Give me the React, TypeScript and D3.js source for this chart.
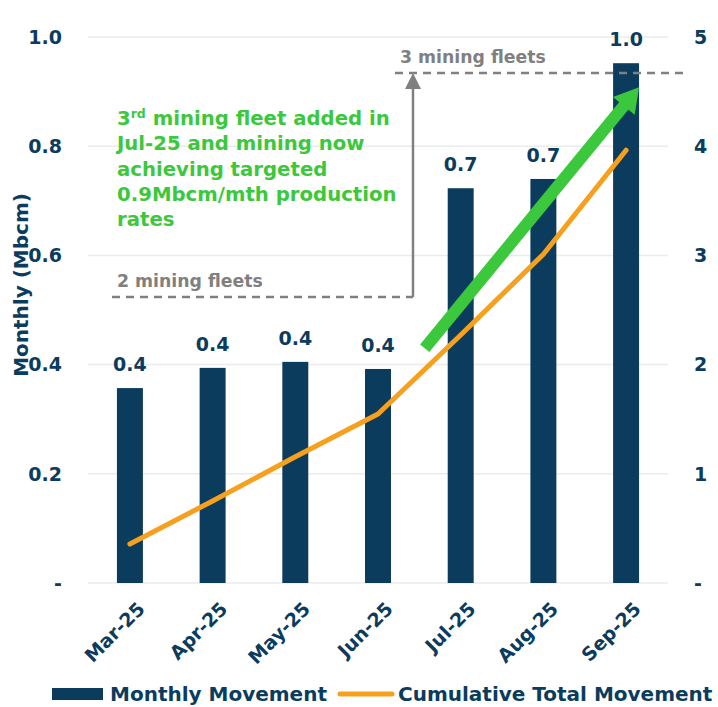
import React from "react";
import * as d3 from "d3";

const months = ["Mar-25", "Apr-25", "May-25", "Jun-25", "Jul-25", "Aug-25", "Sep-25"];
const monthly = [0.357, 0.394, 0.405, 0.392, 0.723, 0.74, 0.952];
const cumulative = [0.357, 0.751, 1.156, 1.548, 2.271, 3.011, 3.963];
const leftTicks = [0, 0.2, 0.4, 0.6, 0.8, 1.0];
const rightTicks = [0, 1, 2, 3, 4, 5];
const annotationLines = [
  "mining fleet added in",
  "Jul-25 and mining now",
  "achieving targeted",
  "0.9Mbcm/mth production",
  "rates",
];
const twoFleetLevel = 0.524;
const threeFleetLevel = 0.934;

const NAVY = "#0B3C5D";
const ORANGE = "#F6A01E";
const GREEN = "#3CC83C";
const GRAY = "#808080";
const FONT = "'DejaVu Sans', sans-serif";

export default function App() {
  const W = 718, H = 707;
  const x = d3.scaleBand<string>().domain(months).range([88, 668]).paddingInner(0.686).paddingOuter(0.35);
  const yL = d3.scaleLinear().domain([0, 1]).range([583, 37]);
  const yR = d3.scaleLinear().domain([0, 5]).range([583, 37]);
  const cx = (m: string) => (x(m) as number) + x.bandwidth() / 2;
  const line = d3.line<number>().x((_, i) => cx(months[i])).y((d) => yR(d));
  const fmt = d3.format(".1f");

  // green arrow
  const gx0 = cx("Jul-25") - 36, gy0 = yR(2.15);
  const gx1 = cx("Sep-25") + 13, gy1 = yR(4.54);
  const dx = gx1 - gx0, dy = gy1 - gy0;
  const len = Math.hypot(dx, dy);
  const ux = dx / len, uy = dy / len;
  const px = -uy, py = ux;
  const headL = 24, headW = 14;
  const bx = gx1 - ux * headL, by = gy1 - uy * headL;
  const head = [
    [gx1, gy1],
    [bx + px * headW, by + py * headW],
    [bx - px * headW, by - py * headW],
  ].map((p) => p.join(",")).join(" ");

  const arrowX = cx("Jun-25") + 35;
  const y2 = yL(twoFleetLevel), y3 = yL(threeFleetLevel);

  return (
    <svg width={W} height={H} style={{ position: "absolute", left: 0, top: 0, background: "#fff" }} fontFamily={FONT}>
      {/* gridlines */}
      {leftTicks.map((t) => (
        <line key={t} x1={88} x2={668} y1={yL(t)} y2={yL(t)} stroke="#ebebeb" strokeWidth={1.5} />
      ))}
      {/* left ticks */}
      {leftTicks.map((t) => (
        <text key={t} x={62} y={yL(t)} dy="0.36em" textAnchor="end" fontSize={19} fontWeight="bold" fill={NAVY}>
          {t === 0 ? "-" : fmt(t)}
        </text>
      ))}
      {/* right ticks */}
      {rightTicks.map((t) => (
        <text key={t} x={694} y={yR(t)} dy="0.36em" textAnchor="start" fontSize={19} fontWeight="bold" fill={NAVY}>
          {t === 0 ? "-" : String(t)}
        </text>
      ))}
      {/* y title */}
      <text transform={`translate(28,285) rotate(-90)`} textAnchor="middle" fontSize={20} fontWeight="bold" fill={NAVY}>
        Monthly (Mbcm)
      </text>
      {/* bars */}
      {months.map((m, i) => (
        <rect key={m} x={x(m)} y={yL(monthly[i])} width={x.bandwidth()} height={yL(0) - yL(monthly[i])} fill={NAVY} />
      ))}
      {/* bar labels */}
      {months.map((m, i) => (
        <text key={m} x={cx(m)} y={yL(monthly[i]) - 17} textAnchor="middle" fontSize={19} fontWeight="bold" fill={NAVY}>
          {fmt(monthly[i])}
        </text>
      ))}
      {/* cumulative line */}
      <path d={line(cumulative) || ""} fill="none" stroke={ORANGE} strokeWidth={5} strokeLinecap="round" strokeLinejoin="round" />
      {/* fleet annotations */}
      <line x1={112} x2={arrowX} y1={y2} y2={y2} stroke={GRAY} strokeWidth={2.5} strokeDasharray="8,6" />
      <text x={117} y={y2 - 10} fontSize={17.3} fontWeight="bold" fill={GRAY}>2 mining fleets</text>
      <line x1={arrowX} x2={arrowX} y1={y2} y2={y3 + 12} stroke={GRAY} strokeWidth={2.5} />
      <polygon points={`${arrowX},${y3} ${arrowX - 8},${y3 + 16} ${arrowX + 8},${y3 + 16}`} fill={GRAY} />
      <line x1={arrowX - 18} x2={688} y1={y3} y2={y3} stroke={GRAY} strokeWidth={2.5} strokeDasharray="8,6" />
      <text x={400} y={y3 - 10} fontSize={17.3} fontWeight="bold" fill={GRAY}>3 mining fleets</text>
      {/* green text */}
      <text x={117} y={125} fontSize={19.7} fontWeight="bold" fill={GREEN}>
        {annotationLines.map((l, i) => (
          <tspan key={i} x={117} y={125 + i * 25.3}>
            {i === 0 ? (
              <>
                3<tspan fontSize={12.5} dy={-7}>rd</tspan>
                <tspan dy={7}> {l}</tspan>
              </>
            ) : (
              l
            )}
          </tspan>
        ))}
      </text>
      {/* green arrow */}
      <line x1={gx0} y1={gy0} x2={bx + ux * 2} y2={by + uy * 2} stroke={GREEN} strokeWidth={12} />
      <polygon points={head} fill={GREEN} />
      {/* x labels */}
      {months.map((m) => (
        <text key={m} transform={`translate(${cx(m) + 6},${600}) rotate(-45)`} textAnchor="end" dy="0.75em" fontSize={19} fontWeight="bold" fill={NAVY}>
          {m}
        </text>
      ))}
      {/* legend */}
      <rect x={52} y={688} width={51} height={12} fill={NAVY} />
      <text x={110} y={701} fontSize={20} fontWeight="bold" fill={NAVY}>Monthly Movement</text>
      <line x1={340} x2={392} y1={694} y2={694} stroke={ORANGE} strokeWidth={5} strokeLinecap="round" />
      <text x={398} y={701} fontSize={20} fontWeight="bold" fill={NAVY}>Cumulative Total Movement</text>
    </svg>
  );
}
